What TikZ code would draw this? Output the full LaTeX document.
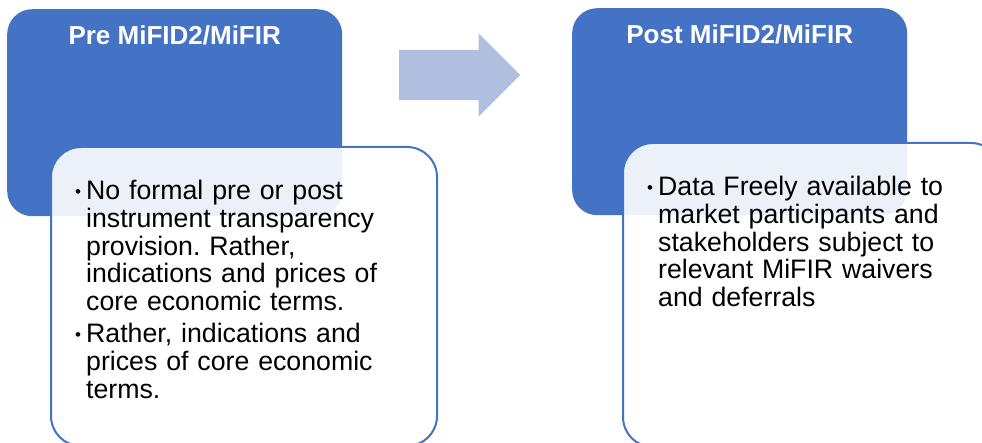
\documentclass[tikz,border=0pt]{standalone}
\usepackage{fontspec}
\setmainfont{Liberation Sans}
\usetikzlibrary{positioning,shapes.arrows}

\definecolor{phaseblue}{HTML}{4472C4}
\definecolor{shiftblue}{HTML}{B0BEE0}

% one bullet point, the bullet hangs in the left skip
\newcommand{\bpoint}[1]{\par\noindent
  \llap{\makebox[11pt][l]{\raisebox{2pt}{\fontsize{17}{17}\selectfont\textbullet}}}#1}

\begin{document}
\begin{tikzpicture}[x=1pt,y=-1pt,
    phase/.style={rectangle, rounded corners=25pt, fill=phaseblue, inner sep=0pt,
      minimum width=335pt, minimum height=207pt, anchor=north west},
    heading/.style={text=white, inner sep=0pt, font=\fontsize{26}{28}\selectfont\bfseries},
    panel/.style={rectangle, rounded corners=30pt, draw=phaseblue, line width=2pt,
      fill=white, fill opacity=0.9, inner sep=0pt, anchor=north west},
    points/.style={text width=#1, inner sep=0pt, font=\fontsize{26.7}{27.7}\selectfont,
      execute at begin node={\raggedright\leftskip=11pt\hyphenpenalty=10000
        \frenchspacing\parskip=0pt}},
    transition/.style={single arrow, fill=shiftblue, inner xsep=0pt, inner ysep=25pt,
      minimum height=121pt, minimum width=83pt, single arrow head extend=16.5pt,
      single arrow tip angle=90}]
        \useasboundingbox (0,0) rectangle (982,443);
        \clip (0,0) rectangle (982,443);

        % before
        \node[phase] (pre) at (7,9) {};
        \node[heading, below=16pt of pre.north] (pretitle) {Pre MiFID2/MiFIR};
        \node[panel, minimum width=386pt, minimum height=299pt] (prebody) at (50,146) {};
        \node[points=330pt, below right=26pt and 25pt of prebody.north west] (prepoints) {%
          \bpoint{No formal pre or post instrument transparency provision. Rather, indications and prices of core economic terms.}
          \par\vspace{4.5pt}
          \bpoint{Rather, indications and prices of core economic terms.}};

        % the move between the two
        \node[transition, anchor=tail] (move) at (399,75) {};

        % after
        \node[phase] (post) at (572,8) {};
        \node[heading, below=16pt of post.north] (posttitle) {Post MiFID2/MiFIR};
        \node[panel, minimum width=378pt, minimum height=304pt] (postbody) at (622,142) {};
        \node[points=315pt, below right=26pt and 25pt of postbody.north west] (postpoints) {%
          \bpoint{Data Freely available to market participants and stakeholders subject to relevant MiFIR waivers and deferrals}};
\end{tikzpicture}
\end{document}
